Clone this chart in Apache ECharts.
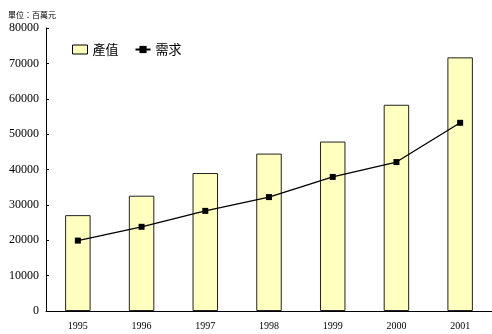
<!DOCTYPE html>
<html><head><meta charset="utf-8">
<script src="https://cdn.jsdelivr.net/npm/echarts@6/dist/echarts.min.js"></script>
<style>html,body{margin:0;padding:0;background:#fff}#c{width:492px;height:334px}</style>
</head><body><div id="c"></div>
<script>
const years = ['1995','1996','1997','1998','1999','2000','2001'];
const output = [27100, 32600, 39000, 44500, 47900, 58300, 71700];
const demand = [19900, 23800, 28300, 32200, 37900, 42100, 53200];
const yTicks = [0,10000,20000,30000,40000,50000,60000,70000,80000];
const unitText = '單位：百萬元';
const seriesNames = ['產值','需求'];

const chart = echarts.init(document.getElementById('c'));
chart.setOption({
  animation: false,
  graphic: [{type:'text', left: 8, top: 11, style:{text: unitText, fontSize: 8, fill:'#000', fontFamily:'Noto Sans CJK TC'}}],
  legend: {
    left: 67, top: 38, itemGap: 16,
    textStyle: {fontFamily:'Noto Sans CJK TC', fontSize: 13, color:'#000'},
    data: [
      {name: seriesNames[0], icon: 'rect', itemStyle:{color:'#FFFFC0', borderColor:'#000', borderWidth:1}},
      {name: seriesNames[1]}
    ],
    itemWidth: 15, itemHeight: 9
  },
  grid: {left: 46, top: 28, bottom: 23, right: -3},
  xAxis: {
    type:'category', data: years,
    axisLine:{lineStyle:{color:'#000', width:1}},
    axisTick:{inside:true, length:4, lineStyle:{color:'#000'}},
    axisLabel:{fontFamily:'Liberation Serif', fontSize:10, color:'#000', margin:10}
  },
  yAxis: {
    type:'value', min: yTicks[0], max: yTicks[yTicks.length-1], interval: 10000,
    splitLine:{show:false},
    axisLine:{show:true, lineStyle:{color:'#000', width:1}},
    axisTick:{show:true, inside:true, length:3, lineStyle:{color:'#000'}},
    axisLabel:{fontFamily:'Liberation Serif', fontSize:12, color:'#000', margin:7, formatter: v => String(v)}
  },
  series: [
    {name: seriesNames[0], type:'bar', data: output, barWidth: '40%',
     itemStyle:{color:'#FFFFC0', borderColor:'#222', borderWidth:1}},
    {name: seriesNames[1], type:'line', data: demand, symbol:'rect', symbolSize:6,
     lineStyle:{color:'#000', width:1.3}, itemStyle:{color:'#000'}}
  ]
});
</script></body></html>
